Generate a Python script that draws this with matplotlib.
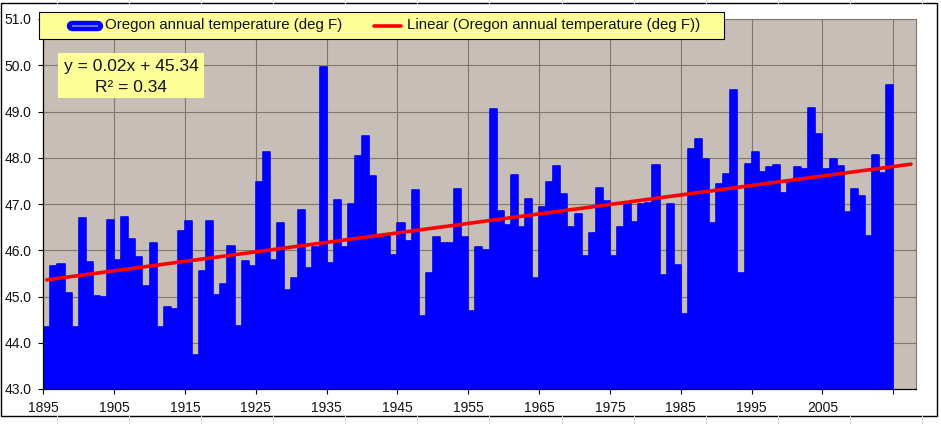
import numpy as np
import matplotlib
matplotlib.use('Agg')
import matplotlib.pyplot as plt
from matplotlib.lines import Line2D
from matplotlib.patches import Rectangle
import matplotlib.patheffects as pe

plt.rcParams['font.family'] = ['Liberation Sans', 'DejaVu Sans']

# Oregon annual mean temperature, deg F, 1895-2014
years = np.arange(1895, 2015)
temps = [
    44.35, 45.66, 45.70, 45.08, 44.33, 46.69, 45.75, 45.01, 44.98, 46.65,  # 1895-1904
    45.79, 46.71, 46.24, 45.86, 45.23, 46.16, 44.35, 44.77, 44.74, 46.42,  # 1905-1914
    46.63, 43.74, 45.55, 46.64, 45.03, 45.27, 46.09, 44.37, 45.77, 45.66,  # 1915-1924
    47.48, 48.13, 45.80, 46.58, 45.14, 45.41, 46.87, 45.61, 46.08, 49.96,  # 1925-1934
    45.73, 47.09, 46.06, 47.00, 48.04, 48.47, 47.61, 46.30, 46.31, 45.90,  # 1935-1944
    46.58, 46.20, 47.30, 44.58, 45.50, 46.29, 46.16, 46.15, 47.32, 46.28,  # 1945-1954
    44.69, 46.08, 46.01, 49.05, 46.85, 46.55, 47.63, 46.50, 47.10, 45.41,  # 1955-1964
    46.93, 47.47, 47.82, 47.22, 46.51, 46.78, 45.88, 46.37, 47.34, 47.07,  # 1965-1974
    45.88, 46.50, 47.01, 46.62, 46.99, 47.03, 47.84, 45.46, 46.99, 45.68,  # 1975-1984
    44.62, 48.18, 48.40, 47.97, 46.58, 47.43, 47.65, 49.46, 45.50, 47.86,  # 1985-1994
    48.13, 47.69, 47.81, 47.84, 47.23, 47.47, 47.81, 47.75, 49.08, 48.51,  # 1995-2004
    47.75, 47.98, 47.82, 46.83, 47.32, 47.17, 46.31, 48.06, 47.68, 49.57,  # 2005-2014
]
tick_years = list(range(1895, 2016, 10))
tick_labels = [str(y) for y in tick_years[:-1]] + ['']
y_ticks = list(range(43, 52))

# trend line as drawn (x = category index 1..n, forecast 3 periods)
trend_slope = 0.0205
trend_intercept = 45.34
trend_forward = 3

series_label = 'Oregon annual temperature (deg F)'
trend_label = 'Linear (Oregon annual temperature (deg F))'
eq_lines = ['y = 0.02x + 45.34', 'R\u00b2 = 0.34']

W, H = 941, 424


def fx(px):
    return px / W


def fy(py):
    return 1 - py / H


fig = plt.figure(figsize=(W / 100, H / 100), dpi=100)
fig.patch.set_facecolor('white')

# faint spreadsheet cell lines outside the chart frame
for k in range(13):
    x = fx(57 + 72.08 * k)
    fig.add_artist(Line2D([x, x], [fy(0), fy(3)], color='#D8D8D8', lw=0.75))
    fig.add_artist(Line2D([x, x], [fy(416), fy(424)], color='#D8D8D8', lw=0.75))

# chart frame
fig.patches.append(Rectangle((fx(1), fy(416)), fx(936) - fx(0), fy(3) - fy(416),
                             transform=fig.transFigure, fill=False,
                             edgecolor='black', lw=1.0, zorder=0))

ax = fig.add_axes([fx(43.3), fy(389), fx(915.7) - fx(43.3), fy(19) - fy(389)])
ax.set_facecolor('#C7BFB7')
ax.set_axisbelow(True)

ax.bar(years, temps, width=1, align='edge', color='#0000FF',
       edgecolor='#0000FF', linewidth=1.2, joinstyle='round', zorder=2)

t_idx = np.array([1, len(temps) + trend_forward])
ax.plot(years[0] + t_idx - 0.5, trend_slope * t_idx + trend_intercept,
        color='#FF0000', lw=2.6, solid_capstyle='round', zorder=3)

ax.set_xlim(1895, 1895 + (915.7 - 43.3) / 7.083)
ax.set_ylim(43, 51)
ax.set_xticks(tick_years)
ax.set_xticklabels(tick_labels)
ax.set_yticks(y_ticks)
ax.set_yticklabels(['%.1f' % v for v in y_ticks])
ax.grid(True, color='#81766B', lw=0.8)
ax.tick_params(direction='out', length=3.5, width=0.8, color='black',
               labelsize=10, labelcolor='#111111')
ax.tick_params(axis='y', pad=5)
ax.tick_params(axis='x', pad=5)
for s in ['left', 'bottom']:
    ax.spines[s].set_color('black')
    ax.spines[s].set_linewidth(0.9)
for s in ['top', 'right']:
    ax.spines[s].set_color('#81766B')
    ax.spines[s].set_linewidth(0.8)

# legend box
fig.patches.append(Rectangle((fx(39), fy(39)), fx(724) - fx(39), fy(12) - fy(39),
                             transform=fig.transFigure, facecolor='#FFFF99',
                             edgecolor='black', lw=0.8, zorder=5))
ly = fy(25.5)
fig.add_artist(Line2D([fx(72), fx(98)], [ly, ly], color='#7B86FF', lw=1.2,
                      solid_capstyle='butt', zorder=6,
                      path_effects=[pe.Stroke(linewidth=7.5, foreground='#0000FF',
                                              capstyle='round'), pe.Normal()]))
fig.text(fx(105), ly, series_label, fontsize=10.8, va='center', ha='left',
         color='#111111', zorder=7)
fig.add_artist(Line2D([fx(374), fx(401)], [ly, ly], color='#FF0000', lw=2.6,
                      solid_capstyle='round', zorder=6))
fig.text(fx(407), ly, trend_label, fontsize=10.8, va='center', ha='left',
         color='#111111', zorder=7)

# trend equation box
fig.patches.append(Rectangle((fx(58), fy(98)), fx(204) - fx(58), fy(53) - fy(98),
                             transform=fig.transFigure, facecolor='#FFFF99',
                             edgecolor='none', zorder=5))
fig.text(fx(131), fy(66), eq_lines[0], fontsize=12.5, ha='center', va='center',
         color='#111111', zorder=7)
fig.text(fx(131), fy(87), eq_lines[1], fontsize=12.5, ha='center', va='center',
         color='#111111', zorder=7)

fig.savefig('out.png', dpi=100)
